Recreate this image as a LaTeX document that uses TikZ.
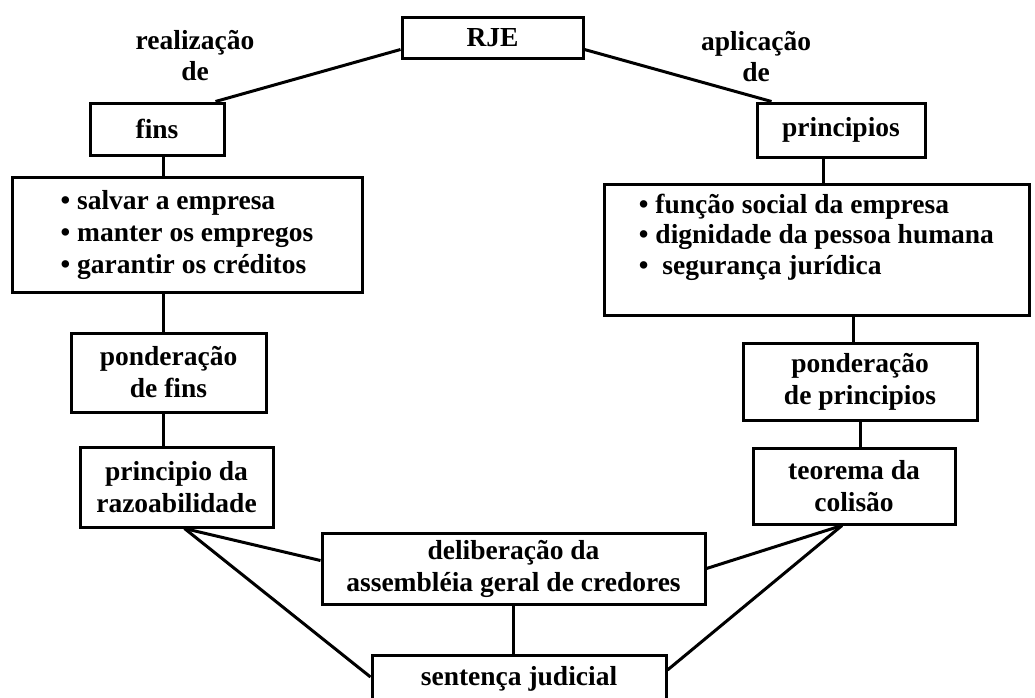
\documentclass[tikz,border=0pt]{standalone}
\usepackage{fontspec}
\setmainfont{Liberation Serif}
\usetikzlibrary{positioning}
\usetikzlibrary{calc}

\begin{document}
\begin{tikzpicture}[x=1pt, y=-1pt,
  caixa/.style={rectangle, draw=black, line width=3pt, inner sep=0pt, align=center, font=\bfseries\fontsize{27.5}{32}\selectfont},
  rotulo/.style={align=center, font=\bfseries\fontsize{27.5}{31}\selectfont},
  liga/.style={line width=3pt}]
\useasboundingbox (0,0) rectangle (1035,697);
\node [caixa, minimum width=181pt, minimum height=41pt] (RJE) at (492.5,37.5) {RJE};
\node [rotulo] (realiz) at (195,56) {realização\\de};
\node [rotulo] (aplic) at (756,57) {aplicação\\de};
\node [caixa, minimum width=134pt, minimum height=52pt] (fins) at (157,129) {fins};
\node [caixa, minimum width=168pt, minimum height=54pt] (princ) at (841,130) {principios};
\node [caixa, align=left, minimum width=350pt, minimum height=115pt] (salvar) at (187,234.5)
  {• salvar a empresa\\• manter os empregos\\• garantir os créditos};
\node [caixa, align=left, minimum width=425pt, minimum height=131pt, font=\bfseries\fontsize{27.5}{30.5}\selectfont] (funcao) at (816.5,249.5)
  {• função social da empresa\\• dignidade da pessoa humana\\•\ \ segurança jurídica\\~};
\node [caixa, minimum width=195pt, minimum height=79pt] (pondfins) at (168.5,372.5) {ponderação\\de fins};
\node [caixa, minimum width=234pt, minimum height=77pt] (pondprinc) at (860,381.5) {ponderação\\de principios};
\node [caixa, minimum width=193pt, minimum height=80pt] (razo) at (176.5,487) {principio da\\razoabilidade};
\node [caixa, minimum width=202pt, minimum height=76pt] (teorema) at (854,486) {teorema da\\colisão};
\node [caixa, minimum width=383pt, minimum height=71pt] (delib) at (513.5,568.5) {deliberação da\\assembléia geral de credores};
\node [caixa, minimum width=294pt, minimum height=72pt, text depth=30pt] (sent) at (519,691) {sentença judicial};

\draw [liga] ([yshift=-12pt]RJE.west) -- ([xshift=-10pt]fins.north east);
\draw [liga] ([yshift=-12pt]RJE.east) -- ([xshift=16pt]princ.north west);
\draw [liga] ([xshift=6pt]fins.south) -- ([xshift=6pt]fins.south |- salvar.north);
\draw [liga] ([xshift=6pt]fins.south |- salvar.south) -- ([xshift=6pt]fins.south |- pondfins.north);
\draw [liga] ([xshift=6pt]fins.south |- pondfins.south) -- ([xshift=6pt]fins.south |- razo.north);
\draw [liga] ([xshift=-18pt]princ.south) -- ([xshift=-18pt]princ.south |- funcao.north);
\draw [liga] ([xshift=-7pt]pondprinc.north |- funcao.south) -- ([xshift=-7pt]pondprinc.north);
\draw [liga] (pondprinc.south) -- (pondprinc.south |- teorema.north);
\draw [liga] ([xshift=8pt]razo.south) -- ([yshift=8pt]delib.west);
\draw [liga] ([xshift=8pt]razo.south) -- ([yshift=14pt]sent.west);
\draw [liga] ([xshift=-12pt]teorema.south) -- (delib.east);
\draw [liga] ([xshift=-12pt]teorema.south) -- ([yshift=21pt]sent.east);
\draw [liga] (delib.south) -- (delib.south |- sent.north);
\end{tikzpicture}
\end{document}
